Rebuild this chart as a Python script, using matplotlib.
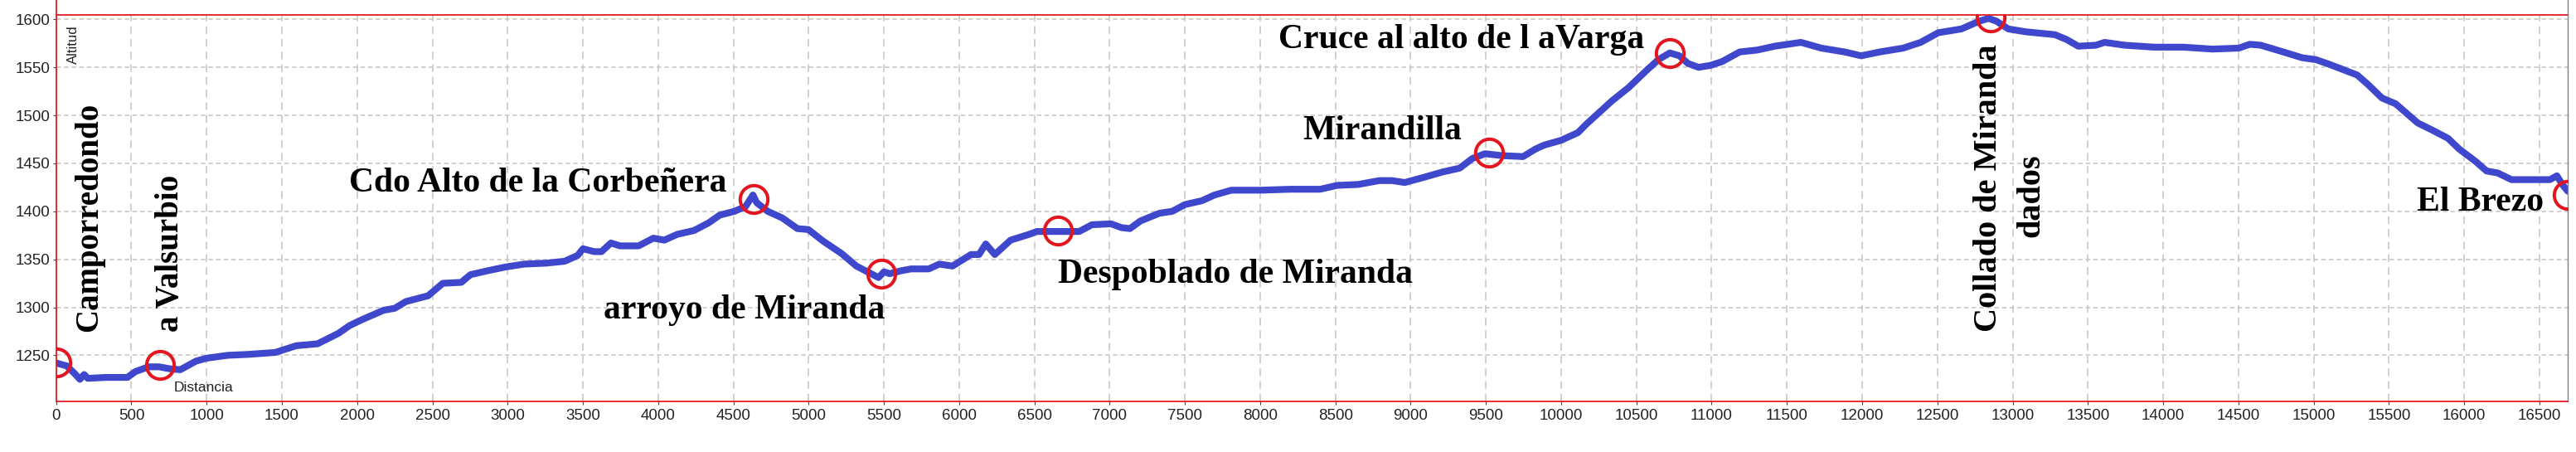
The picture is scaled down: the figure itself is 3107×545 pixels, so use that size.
import matplotlib
matplotlib.use("Agg")
import matplotlib.pyplot as plt
from matplotlib.lines import Line2D

# Perfil de altitud (distancia en m, altitud en m)
distancia = [0, 70, 123, 158, 186, 210, 333, 474, 526, 614, 684, 754, 825, 930, 1000,
             1140, 1280, 1456, 1596, 1737, 1877, 1950, 2030, 2177, 2250, 2324, 2471,
             2569, 2692, 2753, 2864, 2986, 3109, 3256, 3379, 3465, 3501, 3575, 3624,
             3686, 3747, 3870, 3968, 4041, 4127, 4238, 4336, 4409, 4507, 4581, 4630,
             4655, 4728, 4826, 4925, 4998, 5096, 5219, 5317, 5415, 5464, 5501, 5538,
             5612, 5680, 5798, 5868, 5956, 6079, 6132, 6177, 6237, 6342, 6465, 6517,
             6657, 6798, 6882, 7008, 7079, 7135, 7205, 7331, 7416, 7500, 7612, 7697,
             7809, 8006, 8202, 8399, 8511, 8652, 8792, 8876, 8961, 9101, 9213, 9326,
             9410, 9494, 9607, 9747, 9831, 9888, 10000, 10112, 10169, 10281, 10337,
             10449, 10562, 10646, 10722, 10786, 10843, 10913, 10992, 11070, 11186,
             11303, 11419, 11593, 11729, 11884, 11993, 12117, 12272, 12389, 12505,
             12660, 12777, 12840, 12893, 12971, 13087, 13281, 13358, 13436, 13552,
             13611, 13746, 13940, 14134, 14328, 14502, 14576, 14649, 14777, 14923,
             15015, 15106, 15289, 15362, 15454, 15545, 15692, 15783, 15893, 15966,
             16076, 16149, 16222, 16314, 16423, 16570, 16616, 16652, 16688]
altitud = [1242, 1239, 1231, 1225, 1230, 1226, 1227, 1227, 1233, 1238, 1238, 1236, 1235,
           1244, 1247, 1250, 1251, 1253, 1260, 1262, 1273, 1281, 1287, 1297, 1299, 1306,
           1312, 1325, 1326, 1334, 1338, 1342, 1345, 1346, 1348, 1354, 1361, 1358, 1358,
           1367, 1364, 1364, 1372, 1370, 1376, 1380, 1388, 1396, 1400, 1405, 1417, 1409,
           1400, 1393, 1382, 1381, 1369, 1356, 1343, 1335, 1331, 1337, 1335, 1338, 1340,
           1340, 1345, 1343, 1355, 1355, 1366, 1355, 1370, 1376, 1379, 1379, 1379, 1386,
           1387, 1383, 1382, 1390, 1398, 1400, 1407, 1411, 1417, 1422, 1422, 1423, 1423,
           1427, 1428, 1432, 1432, 1430, 1436, 1441, 1445, 1455, 1460, 1458, 1457, 1465,
           1469, 1474, 1482, 1491, 1507, 1515, 1529, 1546, 1558, 1565, 1562, 1554, 1550,
           1552, 1556, 1566, 1568, 1572, 1576, 1570, 1566, 1562, 1566, 1570, 1576, 1586,
           1590, 1598, 1601, 1598, 1590, 1587, 1584, 1579, 1572, 1573, 1576, 1573, 1571,
           1571, 1569, 1570, 1574, 1573, 1567, 1560, 1558, 1553, 1542, 1532, 1518, 1512,
           1492, 1485, 1476, 1465, 1452, 1442, 1440, 1433, 1433, 1433, 1437, 1428, 1421]

# Puntos marcados
puntos_d = [0, 689, 4635, 5481, 6657, 9522, 10722, 12855, 16688]
puntos_alt = [1243, 1240, 1413, 1335, 1380, 1461, 1565, 1602, 1417]

# Etiquetas horizontales: texto, distancia, altitud, alineacion
etiquetas_h = [
    ("Cdo Alto de la Corbeñera", 1944, 1420.5, "left"),
    ("arroyo de Miranda", 3636, 1288.8, "left"),
    ("Despoblado de Miranda", 6657, 1325.3, "left"),
    ("Mirandilla", 8281, 1475, "left"),
    ("Cruce al alto de l aVarga", 8124, 1570.3, "left"),
    ("El Brezo", 16529, 1400.6, "right"),
]
# Etiquetas verticales
etiquetas_v = [
    ("Camporredondo", 270, 1274.4, 28),
    ("a Valsurbio", 811, 1274.4, 28),
    ("Collado de Miranda", 12892, 1274.6, 29),
    ("dados", 13173, 1372.7, 29),
]

x_ticks = list(range(0, 16501, 500))
y_ticks = list(range(1250, 1601, 50))

fig = plt.figure(figsize=(31.07, 5.45), dpi=100)
ax = fig.add_axes([0.02179, 0.1126, 0.97499, 0.8538])

ax.set_xlim(0, 16688)
ax.set_ylim(1202.3, 1604.3)
ax.set_xticks(x_ticks)
ax.set_yticks(y_ticks)
ax.tick_params(labelsize=13.5, labelcolor="#222222", color="#444444",
               length=3, width=0.8)
ax.tick_params(axis="y", pad=2)
ax.tick_params(axis="x", pad=4)
for lab in ax.get_xticklabels() + ax.get_yticklabels():
    lab.set_family("Liberation Sans")

# Rejilla
for y in y_ticks:
    ax.axhline(y, color="#c4c4c4", lw=1.1, ls=(0, (3.6, 2.4)), zorder=0)
for x in x_ticks:
    ax.axvline(x, color="#c4c4c4", lw=1.1, ls=(0, (6, 4)), zorder=0)

for s in ["left", "top", "bottom"]:
    ax.spines[s].set_color("#e31b23")
    ax.spines[s].set_linewidth(1.3)
ax.spines["right"].set_color("#808080")
ax.spines["right"].set_linewidth(1.0)

# Lineas del marco que siguen hasta arriba
fig.add_artist(Line2D([0.02179, 0.02179], [0.9664, 1.0], color="#e31b23", lw=1.3))
fig.add_artist(Line2D([0.99678, 0.99678], [0.9664, 1.0], color="#808080", lw=1.0))

ax.plot(distancia, altitud, color="#3f48cc", lw=5.9, solid_capstyle="round",
        solid_joinstyle="round", zorder=2)
ax.plot(puntos_d, puntos_alt, ls="none", marker="o", markersize=24,
        markerfacecolor="none", markeredgecolor="#e3161f", markeredgewidth=2.9,
        zorder=3)

for texto, d, alt, ha in etiquetas_h:
    ax.text(d, alt, texto, family="Liberation Serif", weight="bold", fontsize=30,
            ha=ha, va="baseline", color="black", zorder=4)
for texto, d, alt, fs in etiquetas_v:
    ax.text(d, alt, texto, family="Liberation Serif", weight="bold", fontsize=fs,
            rotation=90, rotation_mode="anchor", ha="left", va="baseline",
            color="black", zorder=4)

ax.text(141, 1554, "Altitud", family="Liberation Sans", fontsize=12, rotation=90,
        rotation_mode="anchor", ha="left", va="baseline", color="#222222")
ax.text(780, 1212.4, "Distancia", family="Liberation Sans", fontsize=12.5,
        ha="left", va="baseline", color="#222222")

fig.savefig("out.png", dpi=100)
